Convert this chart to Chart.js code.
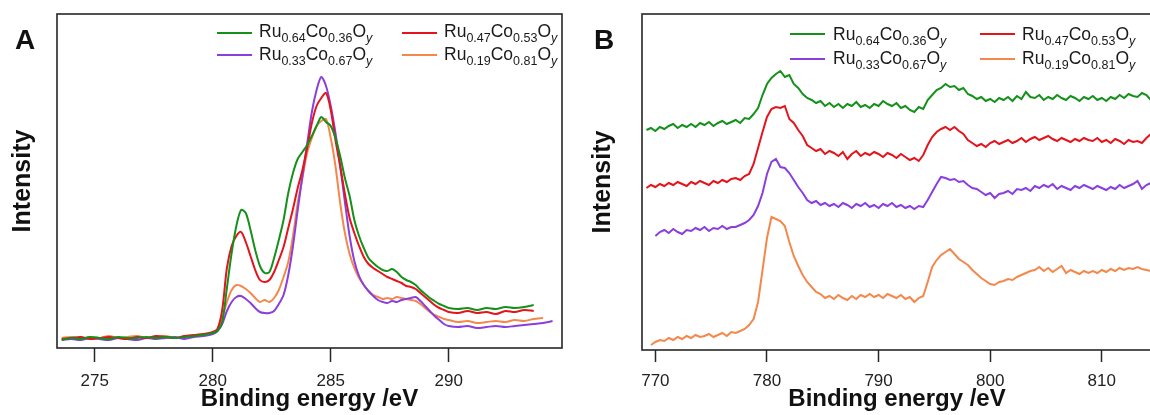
<!DOCTYPE html>
<html>
<head>
<meta charset="utf-8">
<script src="https://cdn.jsdelivr.net/npm/chart.js@4.4.1/dist/chart.umd.min.js"></script>
<style>
  html, body { margin: 0; padding: 0; width: 1150px; height: 415px; overflow: hidden; background: #fff; }
  body { position: relative; font-family: "Liberation Sans", Arial, sans-serif; color: #1a1a1a; }
  canvas { position: absolute; top: 0; }
  #chartA { left: 0; }
  #chartB { left: 580px; }
  .panel { position: absolute; font-weight: bold; font-size: 28px; line-height: 28px; color: #111; }
  .key { position: absolute; width: 35px; height: 0; border-top: 2px solid; }
  .name { position: absolute; font-size: 17.5px; line-height: 20px; white-space: nowrap; }
  .name sub { font-size: 12.5px; vertical-align: -5px; line-height: 0; }
</style>
</head>
<body>
<canvas id="chartA" width="580" height="415"></canvas>
<canvas id="chartB" width="575" height="415"></canvas>
<div class="panel" style="left:15px; top:26px;">A</div>
<div class="panel" style="left:594px; top:26px;">B</div>

<script>
// samples (Ru / Co fractions)
const ruFraction = [0.64, 0.47, 0.33, 0.19];
const coFraction = [0.36, 0.53, 0.67, 0.81];
const lineColors = ["#15901a", "#e3141b", "#8a3fdd", "#f4884c"];

// Panel A: Ru 3d / C 1s region
const energyA = [
    273.6, 274.0, 274.4, 274.8, 275.2, 275.6, 276.0, 276.4, 276.8, 277.2, 277.6, 278.0, 278.4, 278.8, 279.2, 279.6, 280.0,
    280.2, 280.4, 280.6, 280.8, 281.0,
    281.2, 281.4, 281.6, 281.8, 282.0,
    282.2, 282.4, 282.6, 282.8, 283.0,
    283.2, 283.4, 283.6, 283.8, 284.0,
    284.2, 284.4, 284.6, 284.8, 285.0,
    285.2, 285.4, 285.6, 285.8, 286.0,
    286.2, 286.4, 286.6, 286.8, 287.0,
    287.2, 287.4, 287.6, 287.8, 288.0,
    288.2, 288.4, 288.6, 288.8, 289.0,
    289.2, 289.4, 289.6, 289.8, 290.0,
    290.4, 290.8, 291.2, 291.6, 292.0, 292.4, 292.8, 293.2, 293.6, 294.0, 294.4
];
const ru64A = [
    8, 10, 9, 11, 10, 9, 11, 10, 10, 11, 10, 11, 10, 11, 12, 13, 15,
    17, 26, 60, 95, 122,
    138, 135, 118, 98, 82,
    75, 76, 90, 108, 128,
    155, 175, 189, 196, 203,
    212, 222, 231, 226, 222,
    210, 192, 170, 152, 128,
    112, 100, 90, 85, 81,
    78, 77, 79, 76, 71,
    68, 66, 63, 58, 54,
    50, 47, 44, 42, 40,
    39, 40, 38, 40, 39, 41, 40, 41, 43, null, null
];
const ru47A = [
    9, 10, 11, 9, 10, 11, 10, 9, 11, 10, 12, 11, 10, 12, 13, 14, 16,
    19, 38, 80, 102, 112,
    116, 106, 92, 78, 68,
    66, 68, 76, 88, 101,
    120, 139, 160, 178, 200,
    225, 242, 250, 255, 238,
    208, 182, 154, 130, 115,
    102, 91, 84, 80, 77,
    74, 71, 69, 67, 65,
    62, 61, 59, 55, 51,
    47, 43, 40, 38, 36,
    35, 37, 35, 36, 34, 37, 36, 38, 37, null, null
];
const ru33A = [
    8, 9, 8, 10, 9, 8, 10, 9, 8, 10, 9, 10, 11, 9, 11, 12, 14,
    17, 24, 37, 46, 51,
    52, 49, 45, 40, 36,
    35, 35, 37, 44, 53,
    73, 102, 138, 172, 204,
    236, 258, 271, 262, 242,
    215, 182, 146, 112, 87,
    72, 63, 57, 52, 48,
    46, 45, 47, 46, 48,
    49, 50, 51, 47, 42,
    37, 32, 28, 24, 22,
    21, 22, 20, 21, 22, 21, 22, 23, 24, 25, 27
];
const ru19A = [
    10, 11, 9, 11, 10, 12, 10, 11, 12, 10, 11, 12, 10, 11, 12, 13, 15,
    18, 30, 46, 58, 63,
    62, 59, 55, 50, 46,
    48, 46, 50, 58, 71,
    86, 112, 145, 170, 195,
    210, 222, 227, 229, 210,
    182, 145, 115, 94, 80,
    70, 63, 57, 53, 51,
    49, 50, 49, 51, 50,
    49, 48, 47, 44, 40,
    36, 33, 31, 29, 28,
    26, 27, 25, 26, 27, 26, 28, 27, 29, 30, null
];

// Panel B: Co 2p region (curves offset for clarity)
const energyB = [
    769.2, 769.6, 770.0, 770.4, 770.8, 771.2, 771.6, 772.0, 772.4, 772.8,
    773.2, 773.6, 774.0, 774.4, 774.8, 775.2, 775.6, 776.0, 776.4, 776.8,
    777.2, 777.6, 778.0, 778.4, 778.8, 779.2, 779.6, 780.0, 780.4, 780.8,
    781.2, 781.6, 782.0, 782.4, 782.8, 783.2, 783.6, 784.0, 784.4, 784.8,
    785.2, 785.6, 786.0, 786.4, 786.8, 787.2, 787.6, 788.0, 788.4, 788.8,
    789.2, 789.6, 790.0, 790.4, 790.8, 791.2, 791.6, 792.0, 792.4, 792.8,
    793.2, 793.6, 794.0, 794.4, 794.8, 795.2, 795.6, 796.0, 796.4, 796.8,
    797.2, 797.6, 798.0, 798.4, 798.8, 799.2, 799.6, 800.0, 800.4, 800.8,
    801.2, 801.6, 802.0, 802.4, 802.8, 803.2, 803.6, 804.0, 804.4, 804.8,
    805.2, 805.6, 806.0, 806.4, 806.8, 807.2, 807.6, 808.0, 808.4, 808.8,
    809.2, 809.6, 810.0, 810.4, 810.8, 811.2, 811.6, 812.0, 812.4, 812.8,
    813.2, 813.6, 814.0, 814.4
];
const ru64B = [
    220, 222, 219, 223, 221, 224, 226, 222, 225, 223,
    226, 223, 227, 225, 228, 224, 227, 229, 226, 228,
    230, 227, 232, 231, 236, 242, 255, 266, 272, 276,
    279, 273, 275, 266, 262, 256, 252, 250, 247, 249,
    244, 247, 243, 246, 242, 246, 244, 248, 243, 245,
    242, 246, 244, 249, 246, 244, 247, 242, 244, 240,
    238, 243, 241, 250, 255, 260, 262, 266, 263, 264,
    260, 262, 256, 254, 251, 253, 249, 251, 248, 252,
    250, 253, 249, 254, 251, 258, 253, 252, 255, 250,
    253, 251, 255, 252, 250, 254, 252, 249, 253, 251,
    254, 250, 252, 249, 253, 251, 255, 252, 256, 254,
    253, 257, 255, 250
];
const ru47B = [
    162, 165, 163, 166, 164, 167, 165, 168, 166, 164,
    168, 166, 169, 167, 165, 169, 167, 170, 168, 171,
    172, 170, 174, 176, 186, 202, 218, 233, 241, 243,
    242, 244, 231, 227, 220, 214, 205, 202, 199, 201,
    196, 199, 197, 194, 198, 191, 196, 199, 194, 197,
    195, 198, 196, 193, 197, 195, 192, 196, 193, 190,
    192, 189, 195, 205, 213, 218, 221, 223, 220, 223,
    219, 216, 210, 207, 204, 206, 203, 207, 209, 206,
    208, 210, 207, 209, 212, 208, 211, 213, 210, 212,
    214, 211, 209, 212, 210, 208, 211, 209, 212, 210,
    209, 212, 208, 210, 207, 211, 209, 206, 210, 208,
    209, 207, 212, 216
];
const ru33B = [
    null, null, 114, 118, 120, 117, 121, 118, 116, 120,
    119, 122, 120, 123, 119, 122, 121, 124, 121, 123,
    123, 125, 127, 130, 135, 144, 157, 176, 188, 191,
    183, 182, 177, 170, 163, 157, 150, 147, 149, 145,
    147, 144, 146, 143, 147, 145, 142, 146, 144, 147,
    143, 145, 142, 146, 144, 147, 143, 145, 142, 144,
    141, 144, 143, 150, 158, 166, 173, 172, 170, 171,
    168, 169, 165, 162, 161, 158, 155, 157, 152, 156,
    157, 159, 156, 161, 160, 162, 159, 164, 162, 165,
    163, 166, 161, 164, 162, 160, 164, 162, 165, 163,
    161, 164, 162, 160, 163, 161, 165, 162, 164, 166,
    169, 161, 165, 167
];
const ru19B = [
    null, 5, 8, 10, 9, 12, 10, 13, 11, 14,
    12, 15, 13, 14, 16, 13, 15, 17, 14, 18,
    17, 19, 21, 25, 31, 48, 80, 112, 133, 131,
    129, 124, 108, 94, 84, 75, 68, 63, 58, 56,
    52, 54, 51, 55, 52, 50, 54, 51, 55, 53,
    56, 53, 55, 52, 56, 54, 52, 55, 51, 53,
    48, 52, 54, 68, 83, 90, 95, 98, 101, 96,
    91, 88, 85, 80, 76, 72, 69, 66, 65, 68,
    69, 71, 70, 73, 75, 77, 79, 80, 83, 79,
    82, 78, 81, 84, 77, 80, 78, 76, 79, 77,
    79, 77, 80, 78, 81, 79, 82, 80, 82, 81,
    83, 81, 80, 79
];

const fontFamily = "'Liberation Sans', Arial, sans-serif";

const framePlugin = {
    id: "frame",
    afterDraw(chart) {
        const { ctx, chartArea: a } = chart;
        ctx.save();
        ctx.strokeStyle = "#262626";
        ctx.lineWidth = 1.6;
        ctx.strokeRect(a.left, a.top, a.right - a.left, a.bottom - a.top);
        ctx.restore();
    }
};

function sampleName(i) {
    return "Ru" + ruFraction[i].toFixed(2) + "Co" + coFraction[i].toFixed(2) + "Oy";
}

function createChart(canvasId, energies, series, view) {
    const ctx = document.getElementById(canvasId);

    return new Chart(ctx, {
        type: "line",
        data: {
            datasets: series.map((values, i) => ({
                label: sampleName(i),
                data: energies.map((e, j) => ({ x: e, y: values[j] })),
                borderColor: lineColors[i],
                borderWidth: 2,
                pointRadius: 0,
                tension: view.tension
            }))
        },
        options: {
            responsive: false,
            animation: false,
            devicePixelRatio: 1,
            layout: { padding: { left: 0, top: 14, right: view.padRight, bottom: 0 } },
            plugins: {
                legend: { display: false },
                tooltip: { enabled: false }
            },
            scales: {
                x: {
                    type: "linear",
                    min: view.xMin,
                    max: view.xMax,
                    afterFit: axis => { axis.height = view.xHeight; },
                    ticks: {
                        stepSize: view.step,
                        includeBounds: false,
                        maxRotation: 0,
                        padding: 9,
                        color: "#222",
                        font: { family: fontFamily, size: 17 }
                    },
                    grid: {
                        drawOnChartArea: false,
                        tickLength: view.tickLength,
                        tickColor: "#262626",
                        tickWidth: 1.5
                    },
                    border: { display: false },
                    title: {
                        display: true,
                        text: "Binding energy /eV",
                        color: "#111",
                        font: { family: fontFamily, size: 24, weight: "bold" },
                        padding: { top: 0, bottom: 1 }
                    }
                },
                y: {
                    min: 0,
                    max: view.yMax,
                    afterFit: axis => { axis.width = view.yWidth; },
                    ticks: { display: false },
                    grid: { display: false },
                    border: { display: false },
                    title: {
                        display: true,
                        text: "Intensity",
                        color: "#111",
                        font: { family: fontFamily, size: 25, weight: "bold" },
                        padding: { top: 8, bottom: 0 }
                    }
                }
            }
        },
        plugins: [framePlugin]
    });
}

function createLegend(spot) {
    ruFraction.forEach((ru, i) => {
        const col = i % 2;
        const row = Math.floor(i / 2);

        const key = document.createElement("div");
        key.className = "key";
        key.style.left = spot.lineLeft[col] + "px";
        key.style.top = (spot.lineMid[row] - 1) + "px";
        key.style.borderColor = lineColors[i];
        document.body.appendChild(key);

        const name = document.createElement("div");
        name.className = "name";
        name.style.left = spot.textLeft[col] + "px";
        name.style.top = (spot.baseline[row] - 16) + "px";
        name.innerHTML = "Ru<sub>" + ru.toFixed(2) + "</sub>Co<sub>" + coFraction[i].toFixed(2) + "</sub>O<sub><i>y</i></sub>";
        document.body.appendChild(name);
    });
}

createChart("chartA", energyA, [ru64A, ru47A, ru33A, ru19A], {
    xMin: 273.4, xMax: 294.8, step: 5, yMax: 334,
    yWidth: 57, xHeight: 67, padRight: 18, tickLength: 14, tension: 0.3
});

createChart("chartB", energyB, [ru64B, ru47B, ru33B, ru19B], {
    xMin: 768.8, xMax: 814.5, step: 10, yMax: 336,
    yWidth: 62, xHeight: 65, padRight: 3, tickLength: 12, tension: 0
});

createLegend({ lineLeft: [217, 402], textLeft: [259, 444], lineMid: [33, 55], baseline: [37, 59.5] });
createLegend({ lineLeft: [790, 980], textLeft: [833, 1022], lineMid: [33.5, 59], baseline: [39.5, 64] });
</script>
</body>
</html>
